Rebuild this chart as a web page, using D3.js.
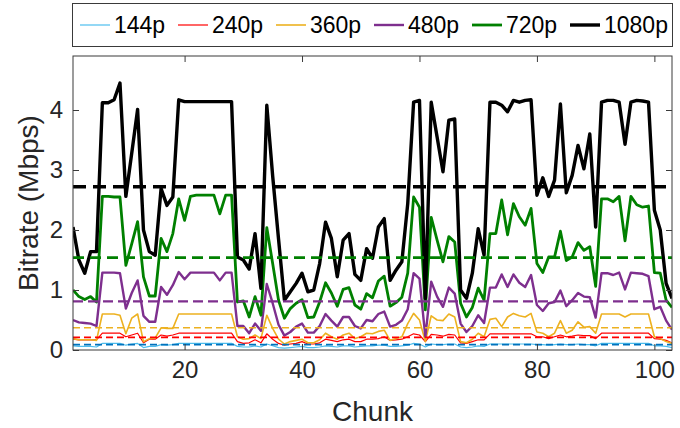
<!DOCTYPE html>
<html>
<head>
<meta charset="utf-8">
<script src="https://cdn.jsdelivr.net/npm/d3@7"></script>
<style>
  html, body { margin: 0; padding: 0; background: #fff; }
  svg { display: block; font-family: "Liberation Sans", Arial, sans-serif; }
</style>
</head>
<body>
<svg id="chart" width="680" height="428"></svg>
<script>
const resolutions = ["144p", "240p", "360p", "480p", "720p", "1080p"];
const colors = ["#4DBEEE", "#FF0000", "#EDB120", "#7E2F8E", "#008000", "#000000"];
const meanColors = ["#0072BD", "#FF0000", "#EDB120", "#7E2F8E", "#008000", "#000000"];
const widths = [1.2, 1.2, 1.6, 2.4, 2.8, 3.4];
const xTicks = [20, 40, 60, 80, 100];
const yTicks = [0, 1, 2, 3, 4];

const br144 = [0.07,0.06,0.06,0.06,0.05,0.11,0.11,0.11,0.11,0.08,0.1,0.11,0.04,0.06,0.06,0.09,0.08,0.09,0.11,0.11,
  0.11,0.11,0.11,0.11,0.11,0.11,0.11,0.11,0.06,0.05,0.05,0.07,0.05,0.1,0.07,0.04,0.03,0.04,0.05,0.06,
  0.04,0.04,0.05,0.07,0.06,0.05,0.07,0.07,0.05,0.06,0.07,0.07,0.08,0.08,0.06,0.06,0.07,0.08,0.11,0.1,
  0.05,0.1,0.09,0.09,0.1,0.1,0.05,0.04,0.05,0.07,0.06,0.1,0.1,0.1,0.1,0.1,0.1,0.1,0.1,0.09,
  0.09,0.08,0.09,0.1,0.09,0.09,0.1,0.09,0.09,0.07,0.11,0.11,0.11,0.11,0.11,0.11,0.11,0.11,0.11,0.07,
  0.07,0.06,0.04];
const br240 = [0.18,0.17,0.17,0.17,0.17,0.28,0.28,0.28,0.28,0.22,0.25,0.28,0.12,0.18,0.18,0.25,0.23,0.25,0.28,0.28,
  0.28,0.28,0.28,0.28,0.28,0.28,0.28,0.28,0.14,0.11,0.12,0.17,0.12,0.27,0.18,0.11,0.08,0.1,0.11,0.14,
  0.1,0.1,0.12,0.18,0.16,0.14,0.17,0.18,0.14,0.14,0.18,0.18,0.19,0.22,0.16,0.17,0.18,0.22,0.27,0.25,
  0.14,0.26,0.25,0.23,0.26,0.25,0.12,0.11,0.14,0.17,0.17,0.27,0.27,0.27,0.27,0.27,0.27,0.27,0.27,0.22,
  0.22,0.19,0.22,0.25,0.22,0.23,0.25,0.24,0.24,0.19,0.28,0.28,0.28,0.28,0.28,0.28,0.28,0.28,0.28,0.19,
  0.18,0.16,0.12];
const br360 = [0.19,0.17,0.17,0.17,0.16,0.6,0.6,0.6,0.58,0.27,0.53,0.6,0.14,0.19,0.2,0.37,0.36,0.36,0.6,0.6,
  0.6,0.6,0.6,0.6,0.6,0.6,0.6,0.6,0.22,0.18,0.19,0.25,0.19,0.58,0.36,0.18,0.1,0.14,0.16,0.18,
  0.12,0.12,0.17,0.28,0.22,0.18,0.25,0.28,0.19,0.22,0.28,0.27,0.31,0.33,0.16,0.19,0.22,0.44,0.61,0.5,
  0.14,0.57,0.5,0.49,0.6,0.55,0.14,0.12,0.18,0.28,0.22,0.51,0.53,0.39,0.55,0.61,0.57,0.55,0.61,0.3,
  0.28,0.22,0.28,0.49,0.28,0.33,0.47,0.38,0.39,0.28,0.6,0.6,0.6,0.6,0.55,0.6,0.6,0.6,0.6,0.22,
  0.19,0.14,0.11];
const br480 = [0.5,0.46,0.45,0.44,0.4,1.29,1.29,1.29,1.28,0.69,0.95,1.16,0.57,0.47,0.47,1.05,0.92,1.08,1.3,1.18,
  1.29,1.29,1.29,1.29,1.29,1.16,1.29,1.29,0.4,0.4,0.28,0.44,0.32,1.1,0.78,0.42,0.24,0.3,0.39,0.44,
  0.29,0.29,0.4,0.6,0.49,0.39,0.55,0.55,0.4,0.36,0.5,0.48,0.6,0.64,0.39,0.42,0.49,0.68,1.28,1.19,
  0.22,1.14,0.89,0.72,1.04,0.94,0.44,0.3,0.4,0.58,0.45,1.04,1.04,1.26,1.05,1.26,1.12,1.05,1.25,0.75,
  0.65,0.78,0.8,0.99,0.73,0.83,0.95,0.89,0.88,0.54,1.28,1.28,1.25,1.29,1.01,1.29,1.28,1.27,1.23,0.68,
  0.72,0.49,0.34];
const br720 = [1.0,0.89,0.84,0.89,0.8,2.56,2.56,2.55,2.55,1.41,1.77,2.14,1.22,0.9,0.9,1.86,1.64,1.94,2.52,2.16,
  2.56,2.58,2.58,2.58,2.58,2.27,2.58,2.58,0.8,0.82,0.55,0.89,0.58,2.04,1.44,0.83,0.53,0.69,0.78,0.84,
  0.54,0.55,0.8,1.12,0.95,0.73,1.01,1.04,0.75,0.68,0.94,0.87,1.15,1.23,0.73,0.79,0.88,1.28,2.55,2.38,
  0.67,2.21,1.83,1.47,1.89,1.8,0.78,0.55,0.71,1.03,0.83,1.94,1.94,2.5,1.92,2.44,2.22,2.08,2.36,1.44,
  1.29,1.55,1.55,1.98,1.49,1.55,1.79,1.66,1.72,1.06,2.52,2.52,2.47,2.56,1.82,2.56,2.42,2.38,2.4,1.29,
  1.28,0.83,0.71];
const br1080 = [2.05,1.5,1.28,1.64,1.64,4.12,4.12,4.17,4.45,2.56,3.28,4.01,2.0,1.64,1.58,2.69,2.41,2.55,4.17,4.14,
  4.14,4.14,4.14,4.14,4.14,4.14,4.14,4.14,1.55,1.5,1.35,1.94,1.03,4.08,2.9,1.85,0.83,0.97,1.11,1.28,
  0.97,1.0,1.44,2.13,1.86,1.22,1.83,1.94,1.26,1.16,1.69,1.53,2.05,2.19,1.16,1.33,1.47,2.44,4.13,4.16,
  0.86,4.13,3.55,2.97,3.83,3.85,1.0,0.86,1.28,2.02,1.58,4.13,4.13,4.08,3.97,4.16,4.13,4.16,4.17,2.58,
  2.87,2.56,2.83,4.1,2.62,2.91,3.41,3.02,3.6,2.05,4.13,4.16,4.16,4.13,3.43,4.13,4.16,4.15,4.13,2.33,
  2.0,1.11,0.86];
const means = [0.09, 0.21, 0.37, 0.81, 1.54, 2.72];

const seriesValues = [br144, br240, br360, br480, br720, br1080];

const svg = d3.select("#chart");
const margin = { left: 73, right: 8, top: 56, bottom: 78 };
const W = 680, H = 428;
const x = d3.scaleLinear().domain([1, 103]).range([margin.left, W - margin.right]);
const y = d3.scaleLinear().domain([0, 4.9]).range([H - margin.bottom, margin.top]);

const axisColor = "#262626";
const frameColor = "#3a3a3a";

svg.append("defs").append("clipPath").attr("id", "clip")
  .append("rect").attr("x", x.range()[0]).attr("y", y.range()[1])
  .attr("width", x.range()[1] - x.range()[0]).attr("height", y.range()[0] - y.range()[1]);

const plot = svg.append("g").attr("clip-path", "url(#clip)");

const line = d3.line().x((d, i) => x(i + 1)).y(d => y(d));

const dashes = ["7,4", "7,4", "7,4", "10,5", "11,6", "13,7"];

seriesValues.forEach((vals, k) => {
  plot.append("path").datum(vals)
    .attr("fill", "none").attr("stroke", colors[k])
    .attr("stroke-width", widths[k]).attr("stroke-linejoin", "round")
    .attr("d", line);
});
means.forEach((m, k) => {
  plot.append("line")
    .attr("x1", x(1)).attr("x2", x(103))
    .attr("y1", y(m)).attr("y2", y(m))
    .attr("stroke", meanColors[k]).attr("stroke-width", k < 3 ? 1.6 : widths[k])
    .attr("stroke-dasharray", dashes[k]);
});

const tickLen = 6;
const fmt = d3.format("d");
const xAxisB = d3.axisBottom(x).tickValues(xTicks).tickSize(-tickLen).tickPadding(11).tickFormat(fmt);
const xAxisT = d3.axisTop(x).tickValues(xTicks).tickSize(-tickLen).tickFormat("");
const yAxisL = d3.axisLeft(y).tickValues(yTicks).tickSize(-tickLen).tickPadding(10).tickFormat(fmt);
const yAxisR = d3.axisRight(y).tickValues(yTicks).tickSize(-tickLen).tickFormat("");

function style(g) {
  g.select(".domain").remove();
  g.selectAll(".tick line").attr("stroke", frameColor).attr("stroke-width", 1);
  g.selectAll(".tick text").attr("fill", axisColor).style("font-size", "24px")
    .style("font-family", "'Liberation Sans', Arial, sans-serif");
}
svg.append("g").attr("transform", `translate(0,${y(0)})`).call(xAxisB).call(style);
svg.append("g").attr("transform", `translate(0,${y.range()[1]})`).call(xAxisT).call(style);
svg.append("g").attr("transform", `translate(${x(1)},0)`).call(yAxisL).call(style);
svg.append("g").attr("transform", `translate(${x(103)},0)`).call(yAxisR).call(style);

svg.append("rect")
  .attr("x", x.range()[0]).attr("y", y.range()[1])
  .attr("width", x.range()[1] - x.range()[0]).attr("height", y.range()[0] - y.range()[1])
  .attr("fill", "none").attr("stroke", frameColor).attr("stroke-width", 1);

svg.append("text")
  .attr("x", (x.range()[0] + x.range()[1]) / 2).attr("y", 421)
  .attr("text-anchor", "middle").attr("fill", axisColor)
  .style("font-size", "28px").text("Chunk");
svg.append("text")
  .attr("transform", `translate(38,${(y.range()[0] + y.range()[1]) / 2}) rotate(-90)`)
  .attr("text-anchor", "middle").attr("fill", axisColor)
  .style("font-size", "28px").text("Bitrate (Mbps)");

const legend = svg.append("g");
legend.append("rect").attr("x", 72.5).attr("y", 3.5).attr("width", 600).attr("height", 43)
  .attr("fill", "#fff").attr("stroke", "#3a3a3a").attr("stroke-width", 1);
resolutions.forEach((r, k) => {
  const lx = 80 + k * 98;
  legend.append("line").attr("x1", lx).attr("x2", lx + 30).attr("y1", 25).attr("y2", 25)
    .attr("stroke", colors[k]).attr("stroke-width", widths[k]);
  legend.append("text").attr("x", lx + 34).attr("y", 33).attr("fill", "#000")
    .style("font-size", "23px").text(r);
});
</script>
</body>
</html>
